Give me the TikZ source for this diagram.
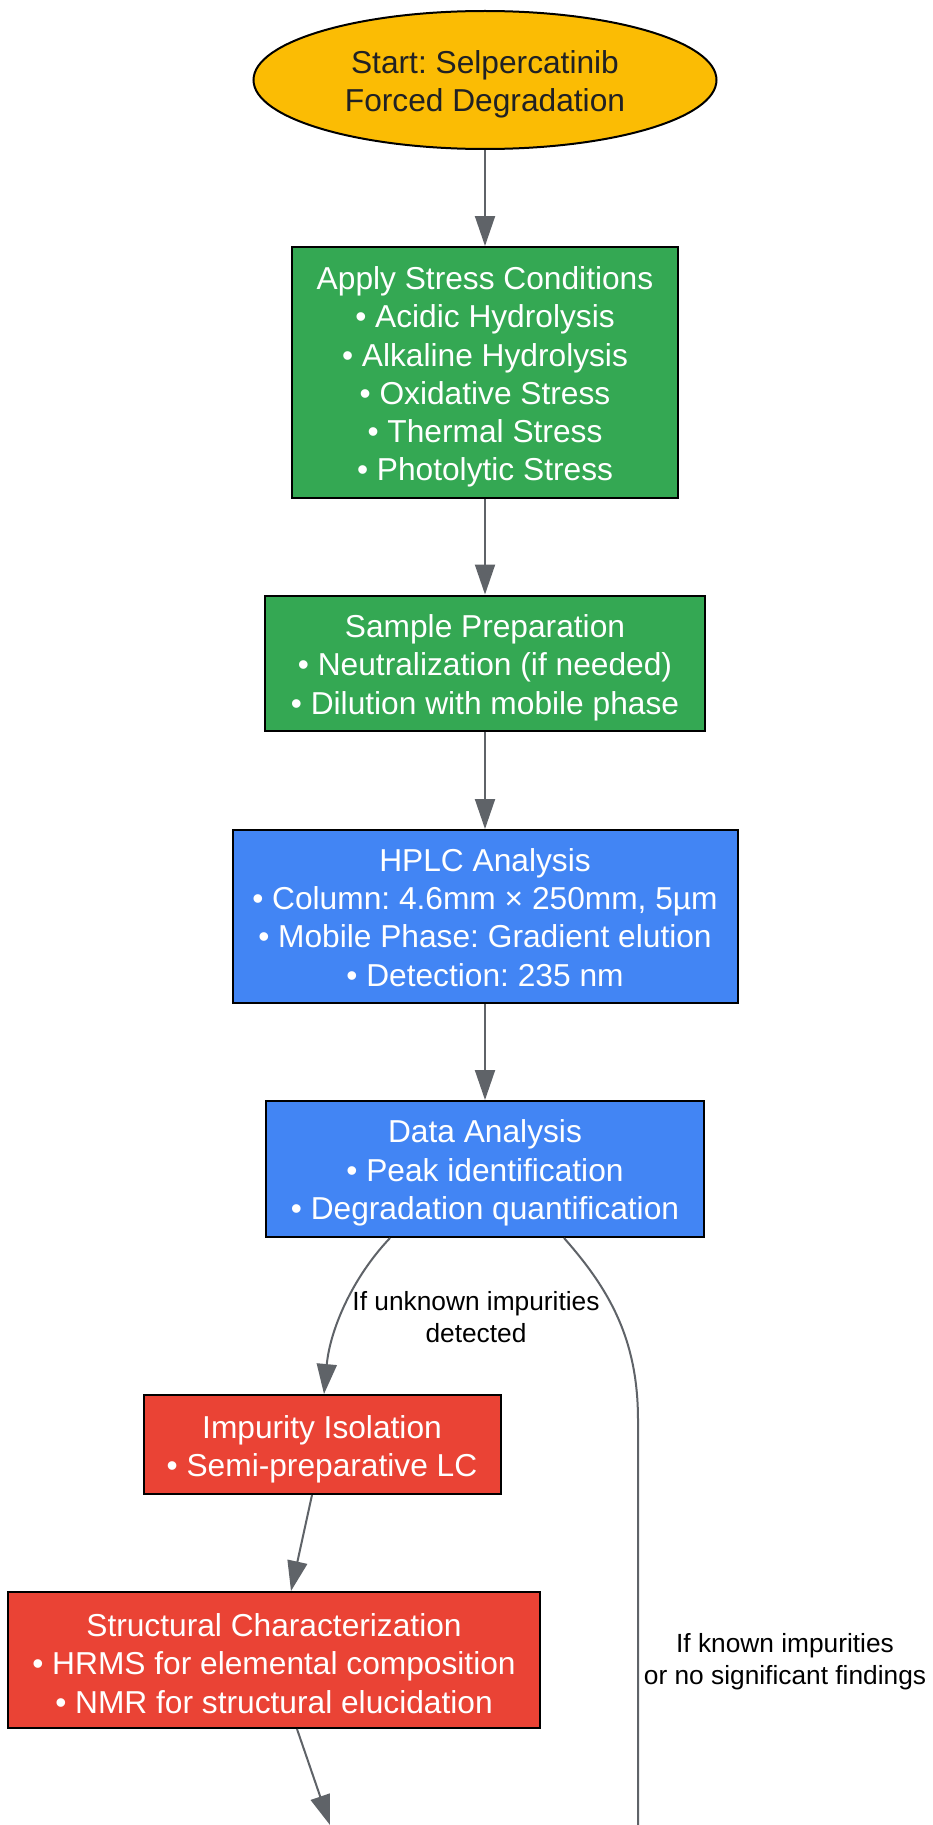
\documentclass[tikz,border=0pt]{standalone}
\usepackage{fontspec}
\setmainfont{Liberation Sans}
\usetikzlibrary{shapes.geometric,arrows.meta}
\definecolor{gyellow}{HTML}{FBBC04}
\definecolor{ggreen}{HTML}{34A853}
\definecolor{gblue}{HTML}{4285F4}
\definecolor{gred}{HTML}{EA4335}
\definecolor{edgegray}{HTML}{5F6368}
\definecolor{darktext}{HTML}{202124}
\newcommand\mynodefont{\frenchspacing\fontsize{31.7}{38.3}\selectfont}
\newcommand\mylabelfont{\frenchspacing\fontsize{26.3}{31.7}\selectfont}
\begin{document}
\begin{tikzpicture}[x=1pt,y=-1pt,
  box/.style={draw=black,line width=2pt,inner sep=0pt},
  boxtext/.style={align=center,text=white,font=\mynodefont,inner sep=0pt},
  edge/.style={draw=edgegray,line width=2pt,-{Triangle[length=30pt,width=20pt]}},
  plainedge/.style={draw=edgegray,line width=2pt},
  elabel/.style={font=\mylabelfont,align=center,text=black}]
\fill[white] (0,0) rectangle (932,1825);
\useasboundingbox (0,0) rectangle (932,1825);

\node[ellipse,box,fill=gyellow,minimum width=463pt,minimum height=138pt] (start) at (485,80) {};
\node[boxtext,text=darktext] (starttext) at ([yshift=-4.5pt]start.center)
  {Start: Selpercatinib\\Forced Degradation};

\node[box,fill=ggreen,minimum width=386pt,minimum height=251pt] (stress) at (485,372.5) {};
\node[boxtext] (stresstext) at ([yshift=-4.5pt]stress.center)
  {Apply Stress Conditions\\• Acidic Hydrolysis\\• Alkaline Hydrolysis\\• Oxidative Stress\\• Thermal Stress\\• Photolytic Stress};

\node[box,fill=ggreen,minimum width=440pt,minimum height=135pt] (prep) at (485,663) {};
\node[boxtext] (preptext) at ([yshift=-4.5pt]prep.center)
  {Sample Preparation\\• Neutralization (if needed)\\• Dilution with mobile phase};

\node[box,fill=gblue,minimum width=505pt,minimum height=173pt] (hplc) at (485,916.5) {};
\node[boxtext] (hplctext) at ([yshift=-1pt]hplc.center)
  {HPLC Analysis\\• Column: 4.6mm × 250mm, 5µm\\• Mobile Phase: Gradient elution\\• Detection: 235 nm};

\node[box,fill=gblue,minimum width=437.5pt,minimum height=136pt] (data) at (485,1169) {};
\node[boxtext] (datatext) at ([yshift=-4pt]data.center)
  {Data Analysis\\• Peak identification\\• Degradation quantification};

\node[box,fill=gred,minimum width=357pt,minimum height=99pt] (iso) at (322,1444.5) {};
\node[boxtext] (isotext) at ([yshift=-5pt]iso.center)
  {Impurity Isolation\\• Semi-preparative LC};

\node[box,fill=gred,minimum width=532pt,minimum height=136pt] (struct) at (274,1660) {};
\node[boxtext] (structtext) at ([yshift=-3.5pt]struct.center)
  {Structural Characterization\\• HRMS for elemental composition\\• NMR for structural elucidation};

\coordinate (endL) at (330,1825);
\coordinate (endR) at (638,1825);

\draw[edge] (start) -- (stress);
\draw[edge] (stress) -- (prep);
\draw[edge] (prep) -- (hplc);
\draw[edge] (hplc) -- (data);
\draw[edge] ([xshift=-95pt]data.south) .. controls (352,1278) and (330,1330) .. ([xshift=2pt]iso.north);
\draw[plainedge] ([xshift=79pt]data.south) .. controls (610,1290) and (638,1340) .. (638,1420) -- (endR);
\draw[edge] ([xshift=-10pt]iso.south) -- ([xshift=17pt]struct.north);
\draw[edge] ([xshift=23pt]struct.south) -- (endL);

\node[elabel] (l1) at (476,1317) {If unknown impurities\\detected};
\node[elabel] (l2) at (785,1662) {If known impurities\\or no significant findings};
\end{tikzpicture}
\end{document}
